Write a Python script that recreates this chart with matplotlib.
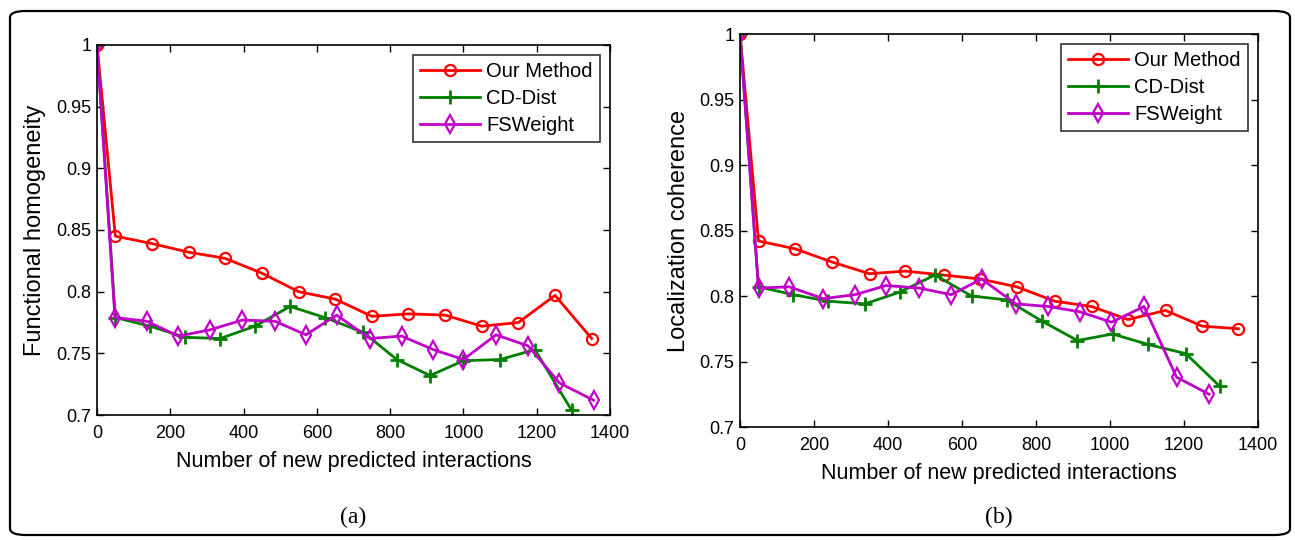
import matplotlib
matplotlib.use("Agg")
import matplotlib.pyplot as plt
from matplotlib.patches import FancyBboxPatch

plt.rcParams['font.family'] = ['Liberation Sans', 'DejaVu Sans']

# ---------------- Data: panel (a) Functional homogeneity ----------------
a_our_x = [0, 50, 150, 250, 350, 450, 550, 650, 750, 850, 950, 1050, 1150, 1250, 1350]
a_our_y = [1.0, 0.845, 0.839, 0.832, 0.827, 0.815, 0.800, 0.794, 0.780, 0.782, 0.781, 0.772, 0.775, 0.797, 0.762]

a_cd_x = [0, 50, 145, 240, 336, 431, 527, 622, 727, 818, 909, 1000, 1100, 1195, 1295]
a_cd_y = [1.0, 0.779, 0.772, 0.763, 0.762, 0.772, 0.788, 0.779, 0.767, 0.745, 0.732, 0.744, 0.745, 0.753, 0.704]

a_fs_x = [0, 49, 136, 222, 308, 397, 486, 570, 654, 745, 831, 918, 1000, 1089, 1177, 1262, 1355]
a_fs_y = [1.0, 0.779, 0.776, 0.764, 0.769, 0.777, 0.776, 0.765, 0.781, 0.762, 0.764, 0.753, 0.745, 0.765, 0.756, 0.726, 0.712]

# ---------------- Data: panel (b) Localization coherence ----------------
b_our_x = [0, 50, 149, 248, 350, 446, 550, 649, 748, 851, 950, 1049, 1150, 1249, 1347]
b_our_y = [1.0, 0.842, 0.836, 0.826, 0.817, 0.819, 0.816, 0.813, 0.807, 0.796, 0.792, 0.782, 0.789, 0.777, 0.775]

b_cd_x = [0, 50, 144, 239, 338, 432, 527, 626, 721, 815, 912, 1007, 1103, 1205, 1297]
b_cd_y = [1.0, 0.807, 0.801, 0.796, 0.794, 0.803, 0.816, 0.800, 0.797, 0.781, 0.766, 0.771, 0.763, 0.756, 0.731]

b_fs_x = [0, 50, 133, 225, 311, 395, 485, 571, 653, 745, 833, 918, 1004, 1092, 1180, 1268]
b_fs_y = [1.0, 0.806, 0.807, 0.798, 0.801, 0.808, 0.806, 0.801, 0.813, 0.794, 0.792, 0.788, 0.780, 0.792, 0.738, 0.725]

series_names = ["Our Method", "CD-Dist", "FSWeight"]
xticks = [0, 200, 400, 600, 800, 1000, 1200, 1400]
xtick_labels = ["0", "200", "400", "600", "800", "1000", "1200", "1400"]
yticks = [0.7, 0.75, 0.8, 0.85, 0.9, 0.95, 1.0]
ytick_labels = ["0.7", "0.75", "0.8", "0.85", "0.9", "0.95", "1"]

RED = "#ff0000"
GREEN = "#008000"
PURPLE = "#c000c8"

W, H = 1295, 540
fig = plt.figure(figsize=(W / 100, H / 100), dpi=100)

# outer rounded border
border = FancyBboxPatch((10 / W, 5 / H), 1280 / W, 524 / H,
                        boxstyle="round,pad=0,rounding_size=0.012",
                        transform=fig.transFigure, fill=False,
                        edgecolor="black", linewidth=1.6)
fig.patches.append(border)


def panel(rect, ox, oy, cx, cy, fx, fy, ylabel, tag, tag_y, ylabel_x):
    ax = fig.add_axes(rect)
    ax.plot(ox, oy, color=RED, lw=2, marker='o', ms=8, mfc='none', mew=1.6,
            label=series_names[0])
    ax.plot(cx, cy, color=GREEN, lw=2, marker='+', ms=10, mew=2,
            label=series_names[1])
    ax.plot(fx, fy, color=PURPLE, lw=2, marker='d', ms=9, mfc='none', mew=1.6,
            label=series_names[2])
    ax.set_xlim(0, 1400)
    ax.set_ylim(0.7, 1.0)
    ax.set_xticks(xticks)
    ax.set_xticklabels(xtick_labels)
    ax.set_yticks(yticks)
    ax.set_yticklabels(ytick_labels)
    ax.tick_params(direction='in', top=True, right=True, length=5,
                   labelsize=13, width=1, pad=4)
    ax.tick_params(axis='x', pad=7)
    for s in ax.spines.values():
        s.set_linewidth(1.2)
    ax.set_xlabel("Number of new predicted interactions", fontsize=15.5, labelpad=7)
    ax.set_ylabel(ylabel, fontsize=17)
    ax.yaxis.set_label_coords(ylabel_x, 0.5)
    leg = ax.legend(loc='upper right', fontsize=14.5, frameon=True, fancybox=False,
                    edgecolor='black', borderaxespad=0.5, handlelength=3.0,
                    labelspacing=0.4, handletextpad=0.3, borderpad=0.35)
    leg.get_frame().set_linewidth(1.2)
    pos = ax.get_position()
    fig.text(pos.x0 + pos.width / 2, tag_y, tag, ha='center', va='center',
             fontsize=17, family='Liberation Serif')
    return ax


ax_a = panel([97 / W, 1 - 415 / H, 513 / W, 370 / H],
             a_our_x, a_our_y, a_cd_x, a_cd_y, a_fs_x, a_fs_y,
             "Functional homogeneity", "(a)", 1 - 517 / H, -0.099)
ax_b = panel([740 / W, 1 - 427 / H, 518 / W, 393 / H],
             b_our_x, b_our_y, b_cd_x, b_cd_y, b_fs_x, b_fs_y,
             "Localization coherence", "(b)", 1 - 517 / H, -0.097)

fig.savefig("out.png", dpi=100)
